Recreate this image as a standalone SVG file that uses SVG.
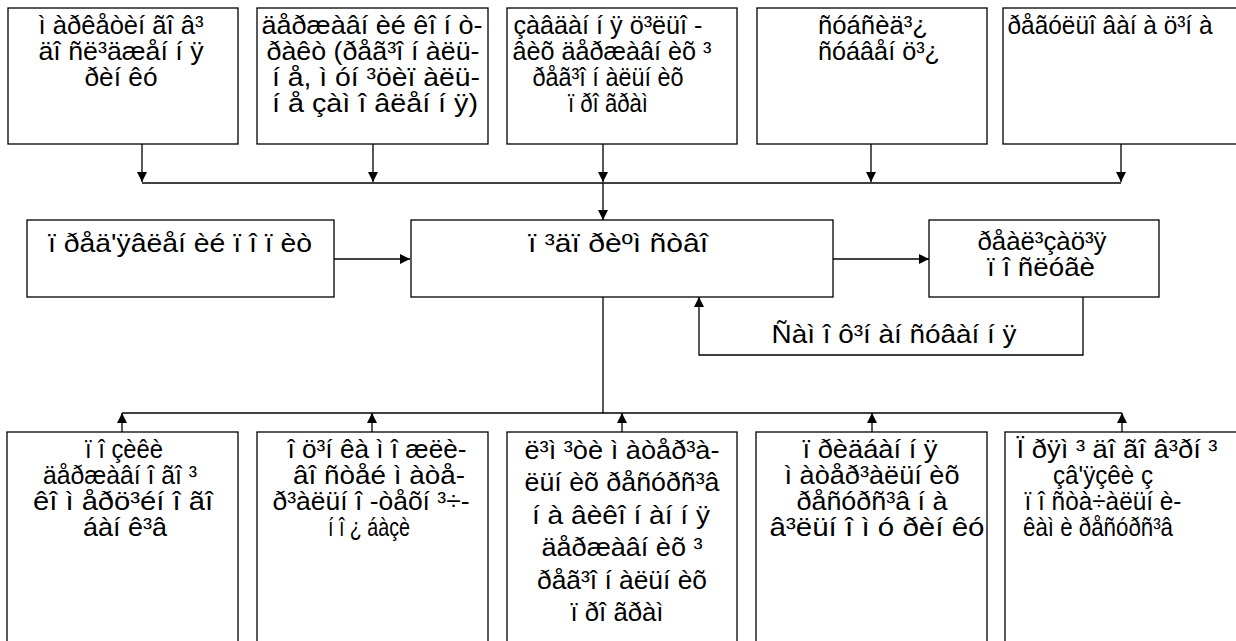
<svg xmlns="http://www.w3.org/2000/svg" width="1236" height="641" viewBox="0 0 1236 641">
<style>
.box{fill:#fff;stroke:#000;stroke-width:1.3}
.t{font-family:"Liberation Sans",Arial,sans-serif;font-size:25px;fill:#000;text-anchor:middle}
.c{fill:none;stroke:#000;stroke-width:1.3}
</style>
<defs>
<marker id="ah" viewBox="0 0 10 10" refX="10" refY="5" markerWidth="10" markerHeight="10" markerUnits="userSpaceOnUse" orient="auto">
<path d="M0,0 L10,5 L0,10 Z" fill="#000"/>
</marker>
</defs>
<rect width="1236" height="641" fill="#fff"/>
<g id="connectors">
<path class="c" d="M142,144 V182" marker-end="url(#ah)"/>
<path class="c" d="M373,144 V182" marker-end="url(#ah)"/>
<path class="c" d="M603,144 V182" marker-end="url(#ah)"/>
<path class="c" d="M871,144 V182" marker-end="url(#ah)"/>
<path class="c" d="M1121,144 V182" marker-end="url(#ah)"/>
<path class="c" d="M142,183 H1121"/>
<path class="c" d="M603,183 V220" marker-end="url(#ah)"/>
<path class="c" d="M334,259 H410" marker-end="url(#ah)"/>
<path class="c" d="M833,259 H929" marker-end="url(#ah)"/>
<path class="c" d="M1083,297 V355 H699 V297" marker-end="url(#ah)"/>
<path class="c" d="M603,297 V413"/>
<path class="c" d="M122,413 H1122"/>
<path class="c" d="M122,432 V413" marker-end="url(#ah)"/>
<path class="c" d="M372,432 V413" marker-end="url(#ah)"/>
<path class="c" d="M622,432 V413" marker-end="url(#ah)"/>
<path class="c" d="M872,432 V413" marker-end="url(#ah)"/>
<path class="c" d="M1122,432 V413" marker-end="url(#ah)"/>
</g>
<g id="n-top1"><rect class="box" x="8" y="8" width="230" height="136"/>
<text class="t" x="121" y="34" textLength="165" lengthAdjust="spacingAndGlyphs">ì àðêåòèí ãî â³</text>
<text class="t" x="121" y="60" textLength="165" lengthAdjust="spacingAndGlyphs">äî ñë³äæåí í ÿ</text>
<text class="t" x="121" y="86" textLength="73" lengthAdjust="spacingAndGlyphs">ðèí êó</text></g>
<g id="n-top2"><rect class="box" x="257" y="8" width="231" height="136"/>
<text class="t" x="372" y="34" textLength="221" lengthAdjust="spacingAndGlyphs">äåðæàâí èé êî í ò-</text>
<text class="t" x="373" y="60" textLength="213" lengthAdjust="spacingAndGlyphs">ðàêò (ðåã³î í àëü-</text>
<text class="t" x="376" y="86" textLength="208" lengthAdjust="spacingAndGlyphs">í å, ì óí ³öèï àëü-</text>
<text class="t" x="375" y="112" textLength="206" lengthAdjust="spacingAndGlyphs">í å çàì î âëåí í ÿ)</text></g>
<g id="n-top3"><rect class="box" x="507" y="8" width="230" height="136"/>
<text class="t" x="608" y="34" textLength="189" lengthAdjust="spacingAndGlyphs">çàâäàí í ÿ ö³ëüî -</text>
<text class="t" x="612" y="60" textLength="199" lengthAdjust="spacingAndGlyphs">âèõ äåðæàâí èõ ³</text>
<text class="t" x="608" y="86" textLength="151" lengthAdjust="spacingAndGlyphs">ðåã³î í àëüí èõ</text>
<text class="t" x="608" y="112" textLength="80" lengthAdjust="spacingAndGlyphs">ï ðî ãðàì</text></g>
<g id="n-top4"><rect class="box" x="757" y="8" width="230" height="136"/>
<text class="t" x="873" y="34" textLength="110" lengthAdjust="spacingAndGlyphs">ñóáñèä³¿</text>
<text class="t" x="879" y="60" textLength="122" lengthAdjust="spacingAndGlyphs">ñóáâåí ö³¿</text></g>
<g id="n-top5"><rect class="box" x="1003" y="8" width="240" height="136"/>
<text class="t" x="1110" y="34" textLength="205" lengthAdjust="spacingAndGlyphs">ðåãóëüî âàí à ö³í à</text></g>
<g id="n-demand"><rect class="box" x="27" y="220" width="307" height="77"/>
<text class="t" x="180" y="252" textLength="264" lengthAdjust="spacingAndGlyphs">ï ðåä'ÿâëåí èé ï î ï èò</text></g>
<g id="n-enterprise"><rect class="box" x="411" y="220" width="422" height="77"/>
<text class="t" x="618" y="252" textLength="180" lengthAdjust="spacingAndGlyphs">ï ³äï ðèºì ñòâî</text></g>
<g id="n-sale"><rect class="box" x="929" y="220" width="230" height="77"/>
<text class="t" x="1042" y="250" textLength="129" lengthAdjust="spacingAndGlyphs">ðåàë³çàö³ÿ</text>
<text class="t" x="1041" y="276" textLength="108" lengthAdjust="spacingAndGlyphs">ï î ñëóãè</text></g>
<g id="l-self"><text class="t" x="894" y="343" textLength="245" lengthAdjust="spacingAndGlyphs">Ñàì î ô³í àí ñóâàí í ÿ</text></g>
<g id="n-bot1"><rect class="box" x="7" y="432" width="231" height="220"/>
<text class="t" x="124" y="458" textLength="78" lengthAdjust="spacingAndGlyphs">ï î çèêè</text>
<text class="t" x="120" y="484" textLength="154" lengthAdjust="spacingAndGlyphs">äåðæàâí î ãî  ³</text>
<text class="t" x="123" y="510" textLength="180" lengthAdjust="spacingAndGlyphs">êî ì åðö³éí î ãî</text>
<text class="t" x="125" y="536" textLength="84" lengthAdjust="spacingAndGlyphs">áàí ê³â</text></g>
<g id="n-bot2"><rect class="box" x="257" y="432" width="231" height="220"/>
<text class="t" x="377" y="458" textLength="179" lengthAdjust="spacingAndGlyphs">î ö³í êà ì î æëè-</text>
<text class="t" x="379" y="484" textLength="172" lengthAdjust="spacingAndGlyphs">âî ñòåé ì àòå-</text>
<text class="t" x="371" y="510" textLength="197" lengthAdjust="spacingAndGlyphs">ð³àëüí î -òåõí ³÷-</text>
<text class="t" x="369" y="536" textLength="82" lengthAdjust="spacingAndGlyphs">í î ¿ áàçè</text></g>
<g id="n-bot3"><rect class="box" x="507" y="432" width="230" height="220"/>
<text class="t" x="622" y="459" textLength="195" lengthAdjust="spacingAndGlyphs">ë³ì ³òè ì àòåð³à-</text>
<text class="t" x="622" y="491" textLength="195" lengthAdjust="spacingAndGlyphs">ëüí èõ ðåñóðñ³â</text>
<text class="t" x="621" y="524" textLength="178" lengthAdjust="spacingAndGlyphs">í à âèêî í àí í ÿ</text>
<text class="t" x="622" y="556" textLength="161" lengthAdjust="spacingAndGlyphs">äåðæàâí èõ ³</text>
<text class="t" x="622" y="589" textLength="170" lengthAdjust="spacingAndGlyphs">ðåã³î í àëüí èõ</text>
<text class="t" x="617" y="621" textLength="93" lengthAdjust="spacingAndGlyphs">ï ðî ãðàì</text></g>
<g id="n-bot4"><rect class="box" x="756" y="432" width="231" height="220"/>
<text class="t" x="870" y="458" textLength="135" lengthAdjust="spacingAndGlyphs">ï ðèäáàí í ÿ</text>
<text class="t" x="872" y="484" textLength="175" lengthAdjust="spacingAndGlyphs">ì àòåð³àëüí èõ</text>
<text class="t" x="872" y="510" textLength="151" lengthAdjust="spacingAndGlyphs">ðåñóðñ³â í à</text>
<text class="t" x="877" y="536" textLength="215" lengthAdjust="spacingAndGlyphs">â³ëüí î ì ó ðèí êó</text></g>
<g id="n-bot5"><rect class="box" x="1005" y="432" width="240" height="220"/>
<text class="t" x="1117" y="458" textLength="201" lengthAdjust="spacingAndGlyphs">Ï ðÿì ³ äî ãî â³ðí ³</text>
<text class="t" x="1103" y="484" textLength="100" lengthAdjust="spacingAndGlyphs">çâ'ÿçêè ç</text>
<text class="t" x="1103" y="510" textLength="157" lengthAdjust="spacingAndGlyphs">ï î ñòà÷àëüí è-</text>
<text class="t" x="1098" y="536" textLength="150" lengthAdjust="spacingAndGlyphs">êàì è ðåñóðñ³â</text></g>
</svg>
